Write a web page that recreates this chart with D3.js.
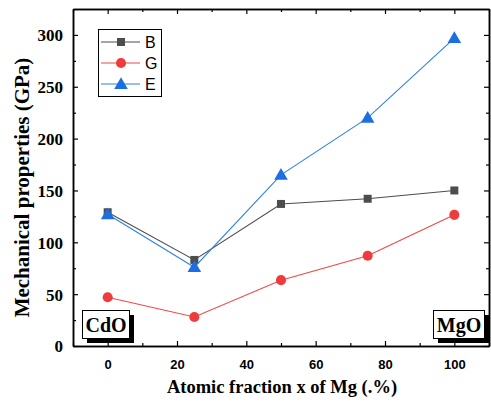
<!DOCTYPE html>
<html>
<head>
<meta charset="utf-8">
<script src="https://cdn.jsdelivr.net/npm/d3@7"></script>
<style>
  body { margin: 0; background: #fff; }
  svg { display: block; }
</style>
</head>
<body>
<svg id="chart" width="491" height="406"></svg>
<script>
const xValues = [0, 25, 50, 75, 100];
const bValues = [129, 83, 137, 142, 150];
const gValues = [47, 28, 63.5, 87, 126.5];
const eValues = [127, 76, 165, 220, 297];
const xTicks = [0, 20, 40, 60, 80, 100];
const yTicks = [0, 50, 100, 150, 200, 250, 300];

const series = [
  { name: "B", values: bValues, color: "#4d4d4d", line: "#4d4d4d", shape: "square" },
  { name: "G", values: gValues, color: "#ef3b3b", line: "#f04848", shape: "circle" },
  { name: "E", values: eValues, color: "#1c6fe0", line: "#2f80e8", shape: "triangle" }
];

const svg = d3.select("#chart");
const margin = { left: 73, top: 9, right: 1, bottom: 60 };
const W = 491, H = 406;

const x = d3.scaleLinear().domain([-10, 110]).range([margin.left, W - margin.right - 1]);
const y = d3.scaleLinear().domain([0, 325]).range([H - margin.bottom, margin.top]);

const sym = {
  square: d3.symbol().type(d3.symbolSquare).size(64),
  circle: d3.symbol().type(d3.symbolCircle).size(80),
  triangle: d3.symbol().type(d3.symbolTriangle).size(80)
};

const minorX = d3.range(-10, 111, 10).filter(v => v % 20 !== 0);
const minorY = d3.range(25, 325, 50);

// axes with inward ticks
const axBottom = svg.append("g").attr("transform", `translate(0,${y(0)})`)
  .call(d3.axisBottom(x).tickValues(xTicks).tickSizeInner(-5).tickSizeOuter(0).tickPadding(14));
svg.append("g").attr("transform", `translate(0,${y(0)})`)
  .call(d3.axisBottom(x).tickValues(minorX).tickSizeInner(-3).tickSizeOuter(0).tickFormat(""));
const axLeft = svg.append("g").attr("transform", `translate(${x(-10)},0)`)
  .call(d3.axisLeft(y).tickValues(yTicks).tickSizeInner(-5).tickSizeOuter(0).tickPadding(10));
svg.append("g").attr("transform", `translate(${x(-10)},0)`)
  .call(d3.axisLeft(y).tickValues(minorY).tickSizeInner(-3).tickSizeOuter(0).tickFormat(""));
svg.append("g").attr("transform", `translate(0,${y(325)})`)
  .call(d3.axisTop(x).tickValues(xTicks).tickSizeInner(-5).tickSizeOuter(0).tickFormat(""));
svg.append("g").attr("transform", `translate(0,${y(325)})`)
  .call(d3.axisTop(x).tickValues(minorX).tickSizeInner(-3).tickSizeOuter(0).tickFormat(""));
svg.append("g").attr("transform", `translate(${x(110)},0)`)
  .call(d3.axisRight(y).tickValues(yTicks).tickSizeInner(-5).tickSizeOuter(0).tickFormat(""));
svg.append("g").attr("transform", `translate(${x(110)},0)`)
  .call(d3.axisRight(y).tickValues(minorY).tickSizeInner(-3).tickSizeOuter(0).tickFormat(""));

svg.selectAll(".domain").attr("stroke", "#000").attr("stroke-width", 1.5);
svg.selectAll(".tick line").attr("stroke", "#000").attr("stroke-width", 1.2);

axBottom.selectAll(".tick text")
  .attr("font-family", "Liberation Sans, Arial, sans-serif")
  .attr("font-weight", "bold").attr("font-size", 13).attr("fill", "#000");
axLeft.selectAll(".tick text")
  .attr("font-family", "Liberation Serif, Times New Roman, serif")
  .attr("font-weight", "bold").attr("font-size", 17).attr("fill", "#000")
  .attr("dy", "0.35em");

// axis titles
svg.append("text")
  .attr("x", 282).attr("y", 393)
  .attr("text-anchor", "middle")
  .attr("font-family", "Liberation Serif, Times New Roman, serif")
  .attr("font-weight", "bold").attr("font-size", 18.5)
  .text("Atomic fraction x of Mg (.%)");

svg.append("text")
  .attr("transform", `translate(29,${(y(0) + y(325)) / 2 + 10}) rotate(-90)`)
  .attr("text-anchor", "middle")
  .attr("font-family", "Liberation Serif, Times New Roman, serif")
  .attr("font-weight", "bold").attr("font-size", 21)
  .text("Mechanical properties (GPa)");

// series
const line = d3.line().x((d, i) => x(xValues[i])).y(d => y(d));
series.forEach(s => {
  svg.append("path").datum(s.values)
    .attr("fill", "none").attr("stroke", s.line).attr("stroke-width", 1.1)
    .attr("d", line);
  svg.selectAll(null).data(s.values).enter().append("path")
    .attr("transform", (d, i) => `translate(${x(xValues[i])},${y(d) + (s.shape === "triangle" ? 1 : 0)})`)
    .attr("d", sym[s.shape]())
    .attr("fill", s.color);
});

// legend
const lg = svg.append("g");
lg.append("rect").attr("x", 98.5).attr("y", 29.5).attr("width", 63).attr("height", 67)
  .attr("fill", "#fff").attr("stroke", "#000").attr("stroke-width", 1);
series.forEach((s, i) => {
  const ly = 42 + i * 21;
  lg.append("line").attr("x1", 101).attr("x2", 140).attr("y1", ly).attr("y2", ly)
    .attr("stroke", s.line).attr("stroke-width", 1.1);
  lg.append("path").attr("transform", `translate(121,${ly + (s.shape === "triangle" ? 1 : 0)})`)
    .attr("d", sym[s.shape]()).attr("fill", s.color);
  lg.append("text").attr("x", 145).attr("y", ly).attr("dy", "0.36em")
    .attr("font-family", "Liberation Sans, Arial, sans-serif").attr("font-size", 16)
    .text(s.name);
});

// CdO / MgO labels with shadow boxes
function tag(x0, y0, w, h, label) {
  svg.append("rect").attr("x", x0 + 5).attr("y", y0 + 5).attr("width", w).attr("height", h).attr("fill", "#000");
  svg.append("rect").attr("x", x0 + 0.5).attr("y", y0 + 0.5).attr("width", w).attr("height", h)
    .attr("fill", "#fff").attr("stroke", "#000").attr("stroke-width", 1);
  svg.append("text").attr("x", x0 + w / 2 + 0.5).attr("y", y0 + h / 2 + 1).attr("dy", "0.35em")
    .attr("text-anchor", "middle")
    .attr("font-family", "Liberation Serif, Times New Roman, serif")
    .attr("font-weight", "bold").attr("font-size", 20)
    .text(label);
}
tag(82, 310, 47, 28, "CdO");
tag(433, 310, 51, 28, "MgO");
</script>
</body>
</html>
